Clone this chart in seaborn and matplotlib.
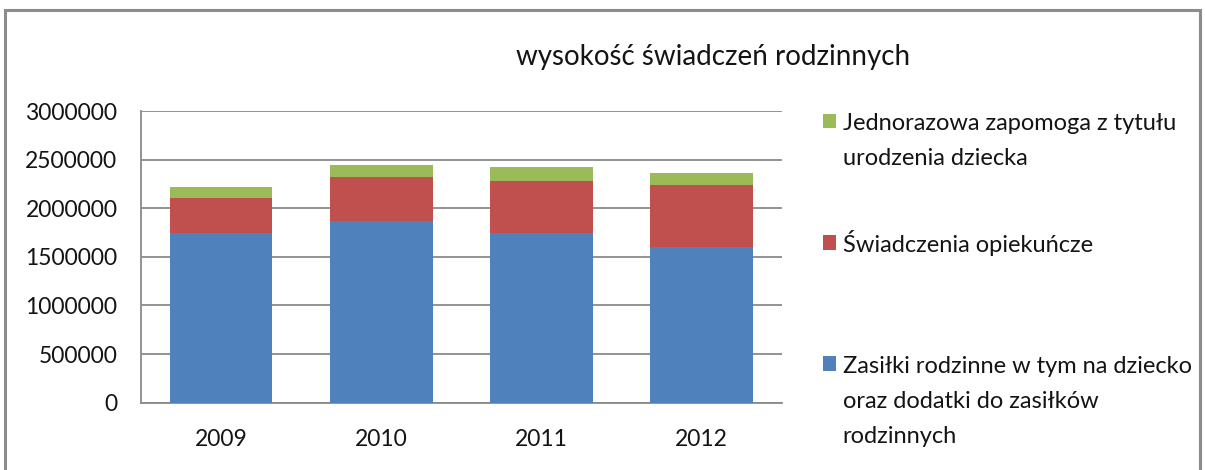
import matplotlib
matplotlib.use("Agg")
import matplotlib.pyplot as plt
from matplotlib.patches import Rectangle
import numpy as np
import pandas as pd
import seaborn as sns

# ---- data ----
years = ["2009", "2010", "2011", "2012"]
zasilki = [1749000, 1866000, 1749000, 1599000]       # blue
opiekuncze = [360000, 453000, 529000, 638000]        # red
jednorazowa = [113000, 130000, 144000, 126000]       # green
series_labels = [
    "Jednorazowa zapomoga z tytułu\nurodzenia dziecka",
    "Świadczenia opiekuńcze",
    "Zasiłki rodzinne w tym na dziecko\noraz dodatki do zasiłków\nrodzinnych",
]
title = "wysokość świadczeń rodzinnych"
yticks = [0, 500000, 1000000, 1500000, 2000000, 2500000, 3000000]

colors = {"blue": "#4F81BD", "red": "#C0504D", "green": "#9BBB59"}

sns.set_style("white")
plt.rcParams["font.family"] = ["Lato", "DejaVu Sans"]

W, H = 1205, 470
fig = plt.figure(figsize=(W / 100, H / 100), dpi=100)
ax = fig.add_axes([141 / W, 1 - 402.7 / H, (781.7 - 141) / W, (402.7 - 111) / H])

df = pd.DataFrame({
    "year": years,
    "blue": np.array(zasilki),
    "red": np.array(zasilki) + np.array(opiekuncze),
    "green": np.array(zasilki) + np.array(opiekuncze) + np.array(jednorazowa),
})

for key in ["green", "red", "blue"]:
    sns.barplot(data=df, x="year", y=key, color=colors[key], saturation=1,
                width=0.64, ax=ax, zorder=3, linewidth=0)

ax.set_ylim(0, 3000000)
ax.set_yticks(yticks)
ax.set_yticklabels([str(v) for v in yticks])
ax.set_xlabel("")
ax.set_ylabel("")
ax.grid(axis="y", color="#8a8a8a", linewidth=1.3, zorder=0)
ax.set_axisbelow(True)
for s in ["top", "right"]:
    ax.spines[s].set_visible(False)
for s in ["left", "bottom"]:
    ax.spines[s].set_visible(True)
    ax.spines[s].set_color("#8a8a8a")
    ax.spines[s].set_linewidth(1.3)
ax.tick_params(axis="both", length=0, labelsize=16.5, colors="#141414")
ax.tick_params(axis="y", pad=17)
ax.tick_params(axis="x", pad=19)

fig.text(713 / W, 1 - 57 / H, title, ha="center", va="center", fontsize=20, color="#141414")

# legend (manual, Excel style: swatch aligned with first line)
leg_colors = [colors["green"], colors["red"], colors["blue"]]
first_baselines = [130, 251.7, 372.7]
line_step = 35
for lab, col, yb in zip(series_labels, leg_colors, first_baselines):
    fig.add_artist(Rectangle((822.7 / W, 1 - (yb - 2) / H), 13.3 / W, 14.5 / H,
                             transform=fig.transFigure, facecolor=col, edgecolor="none"))
    for i, line in enumerate(lab.split("\n")):
        fig.text(842.7 / W, 1 - (yb + i * line_step) / H, line, ha="left", va="baseline",
                 fontsize=17, color="#141414")

# outer chart border
fig.add_artist(Rectangle((4.5 / W, -0.1), (1200 - 4.5) / W, 1.1 - 10 / H,
                         transform=fig.transFigure, facecolor="none",
                         edgecolor="#8c8c8c", linewidth=2.2))

fig.savefig("out.png", dpi=100)
